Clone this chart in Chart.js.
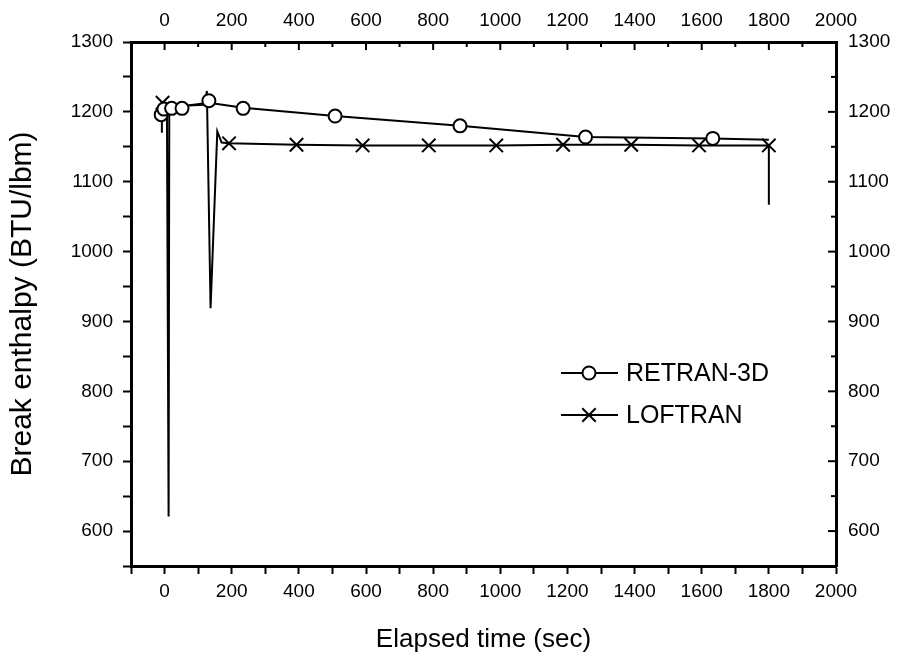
<!DOCTYPE html>
<html>
<head>
<meta charset="utf-8">
<script src="https://cdn.jsdelivr.net/npm/chart.js@4.4.1/dist/chart.umd.min.js"></script>
<style>
  html, body { margin: 0; padding: 0; background: #fff; }
  #wrap { width: 898px; height: 655px; }
</style>
</head>
<body>
<div id="wrap"><canvas id="enthalpyChart" width="898" height="655"></canvas></div>
<script>
// RETRAN-3D trace (line) and its circle markers
const retranTime = [-8, -8, -2, 21, 52, 132, 234, 508, 880, 1254, 1633, 1800];
const retranEnth = [1170, 1196, 1204, 1207, 1208, 1213, 1206, 1194, 1180, 1164, 1162, 1160];
const retranMarkTime = [-10, -2, 21, 52, 132, 234, 508, 880, 1254, 1633];
const retranMarkEnth = [1196, 1204, 1205, 1205, 1216, 1205, 1194, 1180, 1164, 1162];

// LOFTRAN trace (line) and its x markers
const loftranTime = [-6, 7, 12, 14, 120, 126, 137, 157, 170, 192, 393, 590, 787, 988, 1187, 1390, 1592, 1800, 1800];
const loftranEnth = [1213, 1210, 621, 1208, 1210, 1230, 919, 1172, 1156, 1155, 1153, 1152, 1152, 1152, 1153, 1153, 1152, 1152, 1067];
const loftranMarkTime = [-6, 192, 393, 590, 787, 988, 1187, 1390, 1592, 1800];
const loftranMarkEnth = [1213, 1155, 1153, 1152, 1152, 1152, 1153, 1153, 1152, 1152];

const seriesNames = ["RETRAN-3D", "LOFTRAN"];
const xRange = [-100, 2000];
const yRange = [550, 1300];
const xLabelStep = 200, xMinorStep = 100;
const yLabelStep = 100, yMinorStep = 50;

const FONT = '"Liberation Sans", Arial, Helvetica, sans-serif';
const pts = (xs, ys) => xs.map((x, i) => ({ x: x, y: ys[i] }));

// ticks pointing into the plot on the top and right axes
const innerTicks = {
  id: "innerTicks",
  afterDraw(chart) {
    const c = chart.ctx, a = chart.chartArea;
    c.save();
    c.strokeStyle = "#000";
    c.lineWidth = 2;
    chart.scales.x2.ticks.forEach(t => {
      const px = chart.scales.x2.getPixelForValue(t.value);
      const len = t.value % xLabelStep === 0 ? 8 : 5;
      c.beginPath(); c.moveTo(px, a.top); c.lineTo(px, a.top + len); c.stroke();
    });
    chart.scales.y2.ticks.forEach(t => {
      const py = chart.scales.y2.getPixelForValue(t.value);
      const len = t.value % yLabelStep === 0 ? 8 : 5;
      c.beginPath(); c.moveTo(a.right, py); c.lineTo(a.right - len, py); c.stroke();
    });
    c.restore();
  }
};

// legend: short line with the marker in its middle, then the name
const lineLegend = {
  id: "lineLegend",
  afterDraw(chart) {
    const c = chart.ctx;
    const rows = [
      { y: 373, style: "circle", r: 6.5, name: seriesNames[0] },
      { y: 415, style: "crossRot", r: 9.5, name: seriesNames[1] }
    ];
    c.save();
    rows.forEach(r => {
      c.strokeStyle = "#000";
      c.lineWidth = 2;
      c.beginPath(); c.moveTo(561, r.y); c.lineTo(618, r.y); c.stroke();
      c.fillStyle = "#fff";
      Chart.helpers.drawPoint(c, { pointStyle: r.style, radius: r.r, borderWidth: 2 }, 589, r.y);
      c.fillStyle = "#000";
      c.font = "25px " + FONT;
      c.textBaseline = "middle";
      c.textAlign = "left";
      c.fillText(r.name, 626, r.y + 1);
    });
    c.restore();
  }
};

const tickFont = { family: FONT, size: 19 };
const xLabel = v => (v % xLabelStep === 0 ? String(v) : "");
const yLabel = v => (v % yLabelStep === 0 ? String(v) : "");

new Chart(document.getElementById("enthalpyChart"), {
  type: "scatter",
  data: {
    datasets: [
      {
        label: seriesNames[0] + " markers",
        data: pts(retranMarkTime, retranMarkEnth),
        showLine: false,
        pointStyle: "circle",
        pointRadius: 6.5,
        pointBorderWidth: 2,
        pointBorderColor: "#000",
        pointBackgroundColor: "#fff"
      },
      {
        label: seriesNames[1] + " markers",
        data: pts(loftranMarkTime, loftranMarkEnth),
        showLine: false,
        pointStyle: "crossRot",
        pointRadius: 9.5,
        pointBorderWidth: 2,
        pointBorderColor: "#000"
      },
      {
        label: seriesNames[0],
        data: pts(retranTime, retranEnth),
        showLine: true,
        borderColor: "#000",
        borderWidth: 2,
        pointRadius: 0
      },
      {
        label: seriesNames[1],
        data: pts(loftranTime, loftranEnth),
        showLine: true,
        borderColor: "#000",
        borderWidth: 2,
        pointRadius: 0
      }
    ]
  },
  options: {
    responsive: false,
    animation: false,
    layout: { padding: 0 },
    plugins: { legend: { display: false }, tooltip: { enabled: false } },
    scales: {
      x: {
        type: "linear", position: "bottom",
        min: xRange[0], max: xRange[1],
        ticks: { stepSize: xMinorStep, autoSkip: false, maxRotation: 0, color: "#000", font: tickFont, padding: 6, callback: xLabel },
        grid: { drawOnChartArea: false, drawTicks: true, tickLength: 8, tickWidth: 2, tickColor: "#000" },
        border: { display: true, color: "#000", width: 3 },
        title: { display: true, text: "Elapsed time (sec)", color: "#000", font: { family: FONT, size: 26 }, padding: { top: 12, bottom: 0 } },
        afterFit: s => { s.height = 89; }
      },
      x2: {
        type: "linear", axis: "x", position: "top",
        min: xRange[0], max: xRange[1],
        ticks: { stepSize: xMinorStep, autoSkip: false, maxRotation: 0, color: "#000", font: tickFont, padding: 10, callback: xLabel },
        grid: { drawOnChartArea: false, drawTicks: false },
        border: { display: true, color: "#000", width: 3 },
        afterFit: s => { s.height = 42; }
      },
      y: {
        type: "linear", position: "left",
        min: yRange[0], max: yRange[1],
        ticks: { stepSize: yMinorStep, autoSkip: false, color: "#000", font: tickFont, padding: 10, callback: yLabel },
        grid: { drawOnChartArea: false, drawTicks: true, tickLength: 8, tickWidth: 2, tickColor: "#000" },
        border: { display: true, color: "#000", width: 3 },
        title: { display: true, text: "Break enthalpy (BTU/lbm)", color: "#000", font: { family: FONT, size: 30 }, padding: { top: 5, bottom: 0 } },
        afterFit: s => { s.width = 131; }
      },
      y2: {
        type: "linear", axis: "y", position: "right",
        min: yRange[0], max: yRange[1],
        ticks: { stepSize: yMinorStep, autoSkip: false, color: "#000", font: tickFont, padding: 12, callback: yLabel },
        grid: { drawOnChartArea: false, drawTicks: false },
        border: { display: true, color: "#000", width: 3 },
        afterFit: s => { s.width = 62; }
      }
    }
  },
  plugins: [innerTicks, lineLegend]
});
</script>
</body>
</html>
